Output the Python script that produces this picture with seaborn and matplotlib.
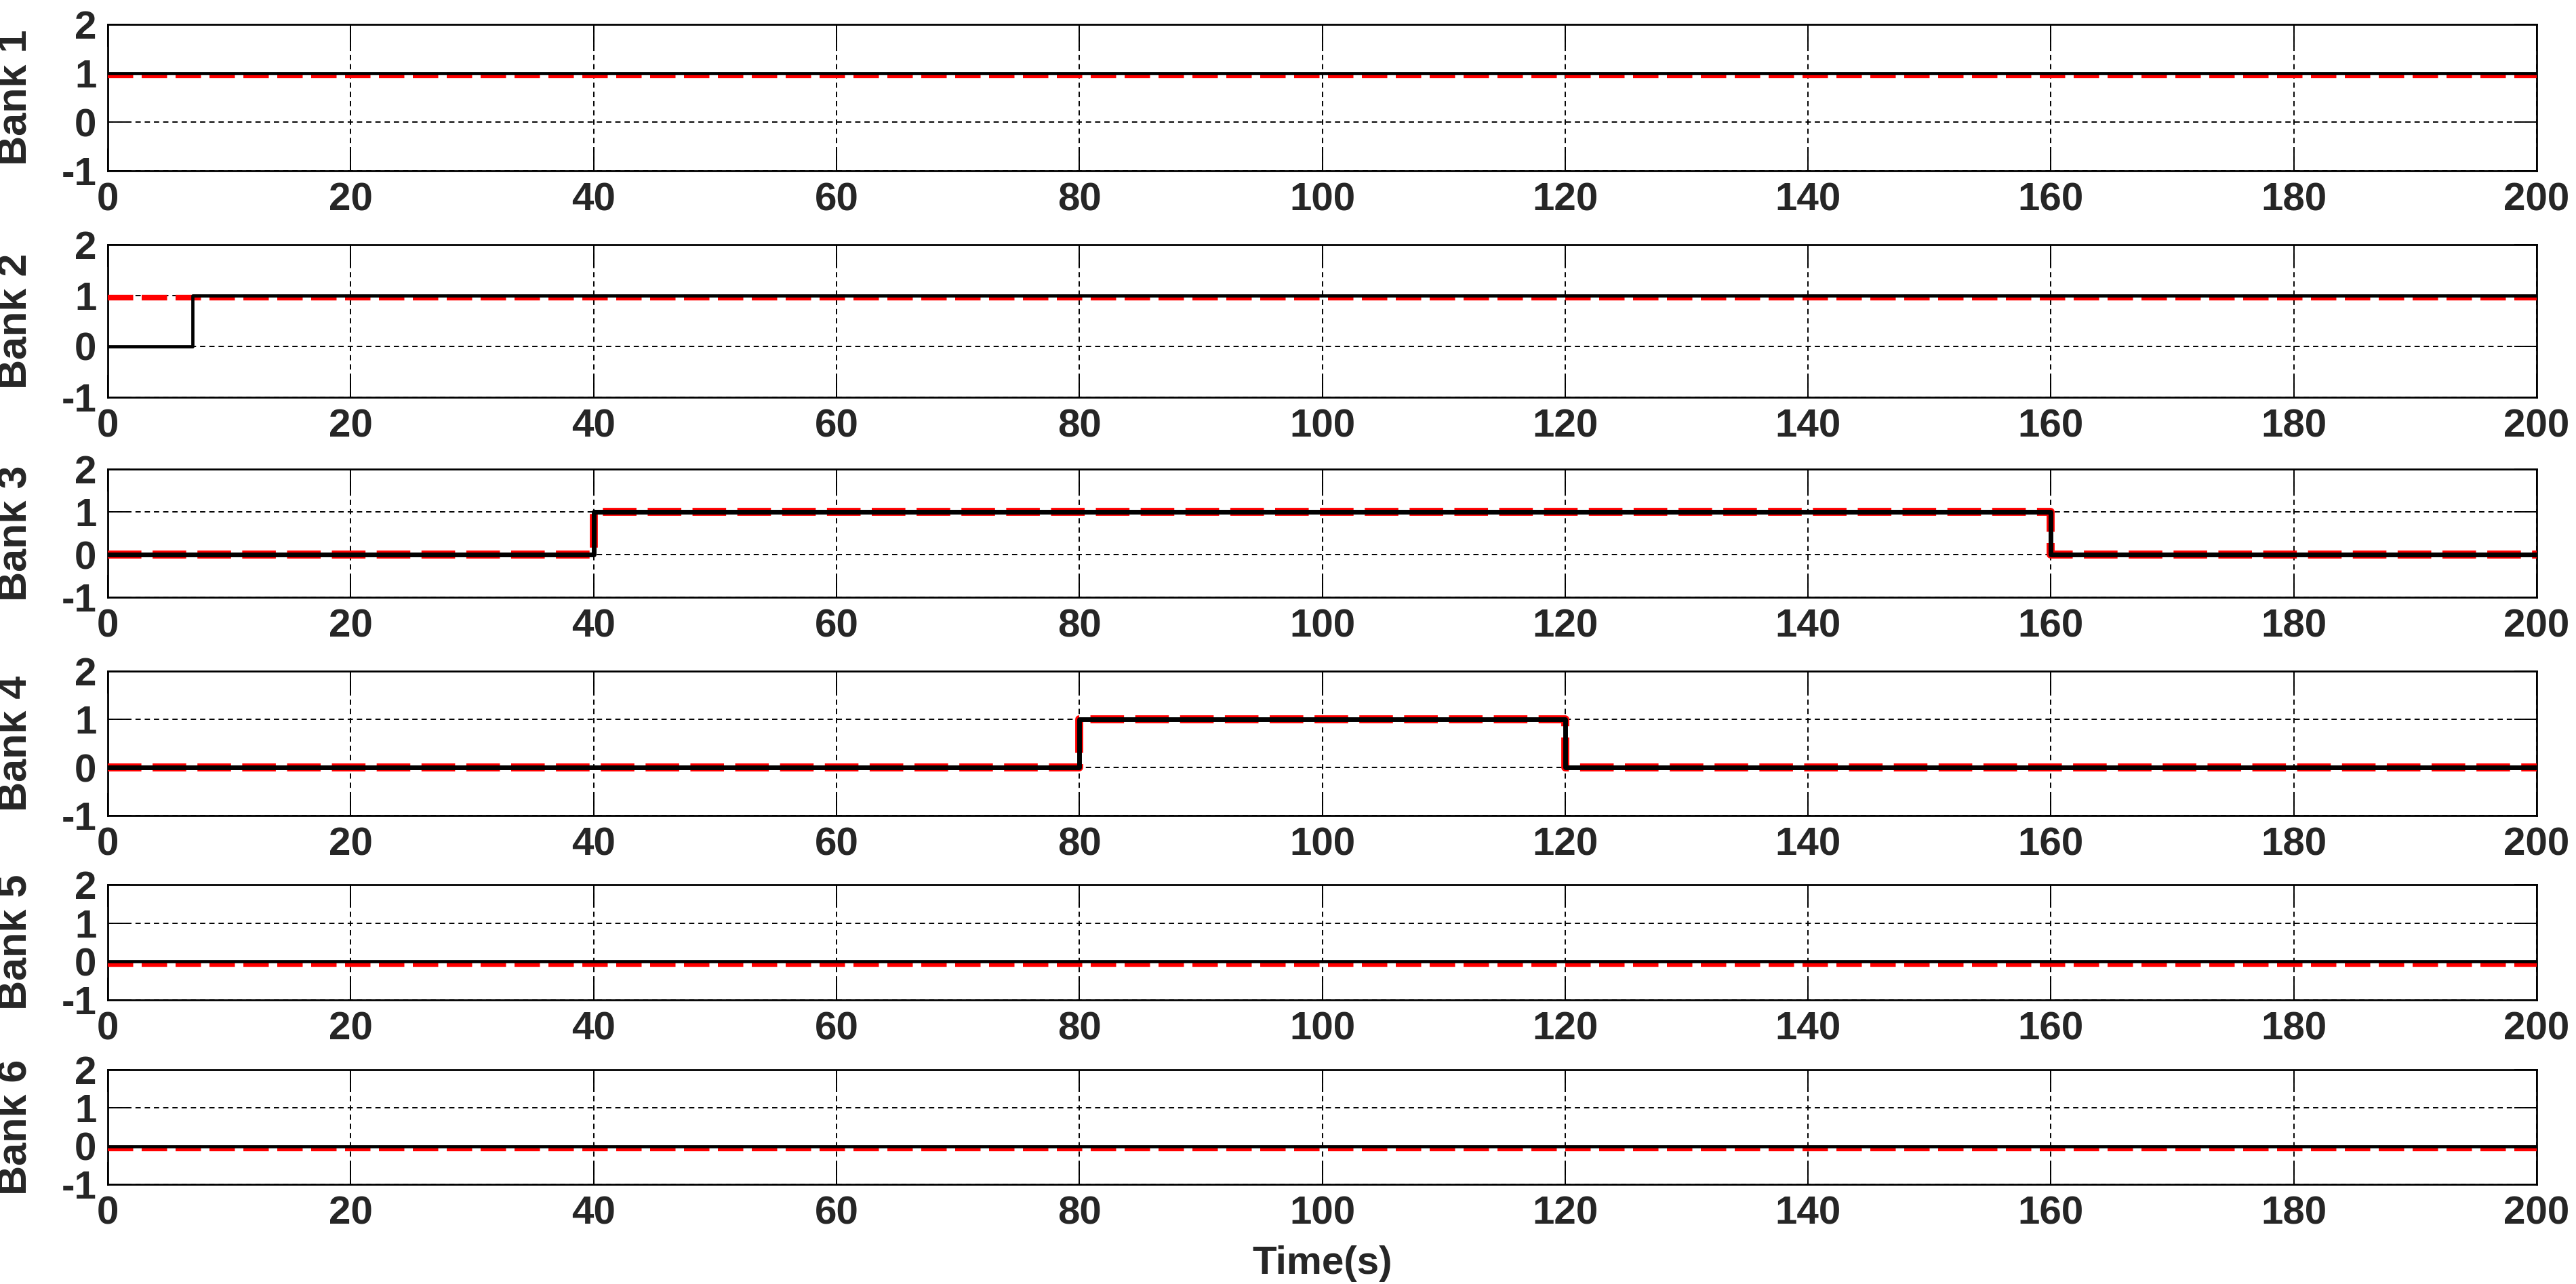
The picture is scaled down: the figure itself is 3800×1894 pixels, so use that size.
import numpy as np
import pandas as pd
import matplotlib
matplotlib.use("Agg")
import matplotlib.pyplot as plt
import matplotlib.transforms as mtransforms
import seaborn as sns

# switching instants (s) and levels for each bank
banks = ["Bank 1", "Bank 2", "Bank 3", "Bank 4", "Bank 5", "Bank 6"]
t_bank1 = [0, 200]
ref_bank1 = [1, 1]
out_bank1 = [1, 1]
t_bank2 = [0, 7, 200]
ref_bank2 = [1, 1, 1]
out_bank2 = [0, 1, 1]
t_bank3 = [0, 40, 160, 200]
ref_bank3 = [0, 1, 0, 0]
out_bank3 = [0, 1, 0, 0]
t_bank4 = [0, 80, 120, 200]
ref_bank4 = [0, 1, 0, 0]
out_bank4 = [0, 1, 0, 0]
t_bank5 = [0, 200]
ref_bank5 = [0, 0]
out_bank5 = [0, 0]
t_bank6 = [0, 200]
ref_bank6 = [0, 0]
out_bank6 = [0, 0]

x_ticks = [0, 20, 40, 60, 80, 100, 120, 140, 160, 180, 200]
y_ticks = [-1, 0, 1, 2]

times = [t_bank1, t_bank2, t_bank3, t_bank4, t_bank5, t_bank6]
refs = [ref_bank1, ref_bank2, ref_bank3, ref_bank4, ref_bank5, ref_bank6]
outs = [out_bank1, out_bank2, out_bank3, out_bank4, out_bank5, out_bank6]

rows = []
for b, t, r, o in zip(banks, times, refs, outs):
    for ti, ri, oi in zip(t, r, o):
        rows.append({"bank": b, "t": ti, "ref": ri, "out": oi})
df = pd.DataFrame(rows)

sns.set_theme(style="white")
plt.rcParams["font.family"] = ["Liberation Sans", "DejaVu Sans"]
plt.rcParams["font.weight"] = "bold"
plt.rcParams["axes.unicode_minus"] = False

W, H = 3800, 1894
fig = plt.figure(figsize=(38, 18.94), dpi=100)

# panel extents in pixels (top, bottom)
panel_px = [(36, 252), (361, 586), (692, 881), (990, 1203), (1305, 1475), (1578, 1747)]
left_px, right_px = 159, 3742
ax_w = right_px - left_px

for i, (b, (top, bot)) in enumerate(zip(banks, panel_px)):
    ax = fig.add_axes([left_px / W, 1 - bot / H, ax_w / W, (bot - top) / H])
    d = df[df["bank"] == b]
    thick = b in ("Bank 3", "Bank 4")
    sns.lineplot(data=d, x="t", y="ref", ax=ax, color="red",
                 linewidth=8.5 if thick else 6,
                 estimator=None, sort=False, drawstyle="steps-post",
                 linestyle=(0, (4.2, 1.4)) if thick else (0, (4.5, 1.5)), zorder=3)
    red = ax.get_lines()[-1]
    if not thick:
        # the reference trace sits just under the output trace
        red.set_transform(ax.transData + mtransforms.ScaledTranslation(0, -0.035, fig.dpi_scale_trans))
    sns.lineplot(data=d, x="t", y="out", ax=ax, color="black",
                 linewidth=5 if thick else 3.4,
                 estimator=None, sort=False, drawstyle="steps-post", zorder=4)
    ax.set_xlim(0, 200)
    ax.set_ylim(-1, 2)
    ax.set_xticks(x_ticks)
    ax.set_yticks(y_ticks)
    ax.grid(True, color="black", linestyle=(0, (4, 3)), linewidth=1.4)
    ax.tick_params(direction="in", length=24, width=1.4, top=True, right=True,
                   bottom=True, left=True, labelsize=42, color="black", pad=12)
    for lab in ax.get_xticklabels() + ax.get_yticklabels():
        lab.set_fontweight("bold")
    for s in ax.spines.values():
        s.set_color("black")
        s.set_linewidth(2)
    ax.set_ylabel(b, fontsize=44, fontweight="bold")
    ax.yaxis.set_label_coords((52 - left_px) / ax_w, 0.5)
    if i == len(banks) - 1:
        ax.set_xlabel("Time(s)", fontsize=42, fontweight="bold", labelpad=14)
    else:
        ax.set_xlabel("")

fig.savefig("out.png", dpi=100)
